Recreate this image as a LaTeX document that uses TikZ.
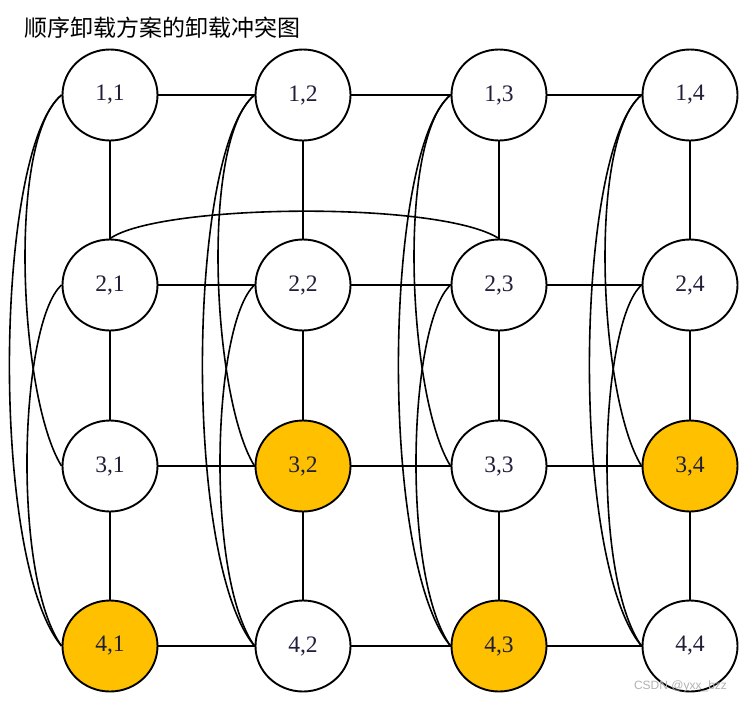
\documentclass[tikz,border=0pt]{standalone}
\usepackage{fontspec}
\setmainfont{Liberation Serif}
\newfontfamily\cjk{Noto Sans CJK SC}
\newfontfamily\wmfont{Liberation Sans}
\usetikzlibrary{shapes.geometric}
\definecolor{gold}{HTML}{FFC000}
\definecolor{numtxt}{HTML}{1F1F3A}
\begin{document}
\begin{tikzpicture}[x=0.5pt,y=-0.5pt,
  vtx/.style={ellipse, draw=black, line width=0.95pt, fill=white,
    minimum width=47.5pt, minimum height=45.5pt, inner sep=0pt,
    font=\fontsize{11.8}{13}\selectfont, text=numtxt},
  hot/.style={vtx, fill=gold},
  edge/.style={line width=0.9pt},
  arcline/.style={line width=0.8pt}]
\useasboundingbox (0,0) rectangle (749,702);
\node[anchor=west, inner sep=0pt, font=\cjk\fontsize{11.5}{14}\selectfont] (title) at (24,28) {顺序卸载方案的卸载冲突图};
% nodes
\node[vtx] (n11) at (110,95) {1,1};
\node[vtx] (n12) at (303,95) {1,2};
\node[vtx] (n13) at (499,95) {1,3};
\node[vtx] (n14) at (690,95) {1,4};
\node[vtx] (n21) at (110,285) {2,1};
\node[vtx] (n22) at (303,285) {2,2};
\node[vtx] (n23) at (499,285) {2,3};
\node[vtx] (n24) at (690,285) {2,4};
\node[vtx] (n31) at (110,466) {3,1};
\node[hot] (n32) at (303,466) {3,2};
\node[vtx] (n33) at (499,466) {3,3};
\node[hot] (n34) at (690,466) {3,4};
\node[hot] (n41) at (110,646) {4,1};
\node[vtx] (n42) at (303,646) {4,2};
\node[hot] (n43) at (499,646) {4,3};
\node[vtx] (n44) at (690,646) {4,4};
% grid edges
\foreach \r in {1,...,4}{
  \draw[edge] (n\r1.east) -- (n\r2.west);
  \draw[edge] (n\r2.east) -- (n\r3.west);
  \draw[edge] (n\r3.east) -- (n\r4.west);
}
\foreach \c in {1,...,4}{
  \draw[edge] (n1\c.south) -- (n2\c.north);
  \draw[edge] (n2\c.south) -- (n3\c.north);
  \draw[edge] (n3\c.south) -- (n4\c.north);
}
% long curves in each column
\foreach \c in {1,...,4}{
  \draw[arcline] (n1\c.west) .. controls +(-55,45) and +(-42,-67) .. (n3\c.west);
  \draw[arcline] (n1\c.west) .. controls +(-67,55) and +(-72,-86) .. (n4\c.west);
  \draw[arcline] (n2\c.west) .. controls +(-42,38) and +(-50,-70) .. (n4\c.west);
}
% arc over row 2
\draw[arcline] (n21.north) .. controls +(50,-35) and +(-59,-38) .. (n23.north);
% watermark
\node[anchor=east, text=black!30, font=\wmfont\fontsize{6}{7}\selectfont] (wm) at (734,686) {CSDN @yxx\_bzz};
\end{tikzpicture}
\end{document}
